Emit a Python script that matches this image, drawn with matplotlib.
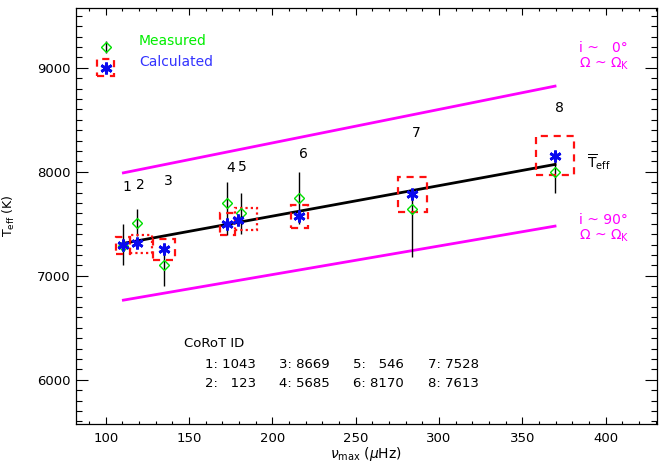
import numpy as np
import matplotlib
matplotlib.use("Agg")
import matplotlib.pyplot as plt
from matplotlib.patches import Rectangle
from matplotlib.ticker import MultipleLocator

# calculated values (stars)
calc_numax = [110.6, 118.6, 135.2, 172.6, 179.6, 216.2, 284.0, 369.6]
calc_teff = [7300, 7311, 7254, 7494, 7536, 7577, 7786, 8154]

# measured values (diamonds) with asymmetric errors
meas_numax = [110.6, 119.0, 135.2, 173.0, 181.0, 216.2, 284.0, 369.6]
meas_teff = [7290, 7510, 7100, 7700, 7600, 7750, 7640, 8000]
meas_err_lo = [190, 130, 200, 310, 195, 250, 460, 200]
meas_err_hi = [210, 130, 200, 200, 195, 250, 160, 200]

# uncertainty boxes on the calculated values: (x0, x1, y0, y1)
box_ranges = [
    (106.0, 114.5, 7212, 7375),
    (114.5, 128.0, 7218, 7390),
    (128.6, 141.6, 7150, 7350),
    (168.6, 177.6, 7391, 7606),
    (177.6, 190.6, 7440, 7648),
    (211.0, 221.6, 7462, 7680),
    (275.6, 293.0, 7615, 7952),
    (358.0, 381.0, 7968, 8346),
]
box_styles = ["dashed", "dotted", "dashed", "dashed", "dotted", "dashed", "dashed", "dashed"]

# star numbers and their label positions
star_ids = ["1", "2", "3", "4", "5", "6", "7", "8"]
label_numax = [112.6, 121.0, 137.6, 175.0, 182.2, 218.6, 286.6, 372.0]
label_teff = [7850, 7870, 7914, 8033, 8048, 8167, 8369, 8610]

# mean Teff relation and the two rotation limits
fit_numax = [110.6, 369.6]
fit_teff = [7312, 8071]
upper_teff = [7990, 8824]
lower_teff = [6766, 7478]

corot_ids = [["1: 1043", "3: 8669", "5:   546", "7: 7528"],
             ["2:   123", "4: 5685", "6: 8170", "8: 7613"]]

dash = (0, (3.2, 2.6))
dot = (0, (1.0, 1.4))
red = "#ff1010"
star_blue = "#0a0aee"

fig = plt.figure(figsize=(6.59, 4.66), dpi=100)
ax = fig.add_axes([0.1149, 0.0901, 0.8816, 0.8927])
ax.set_xlim(82, 430.6)
ax.set_ylim(5575, 9575)

# limits and fit line
ax.plot(fit_numax, upper_teff, color="#ff00ff", lw=2.0, zorder=2)
ax.plot(fit_numax, lower_teff, color="#ff00ff", lw=2.0, zorder=2)
ax.plot(fit_numax, fit_teff, color="black", lw=2.0, zorder=3)

# error bars of the measurements
ax.errorbar(meas_numax, meas_teff, yerr=[meas_err_lo, meas_err_hi], fmt="none",
            ecolor="black", elinewidth=1.0, capsize=0, zorder=2)

for (x0, x1, y0, y1), st in zip(box_ranges, box_styles):
    ls = dash if st == "dashed" else dot
    ax.add_patch(Rectangle((x0, y0), x1 - x0, y1 - y0, fill=False,
                           edgecolor=red, lw=1.6, linestyle=ls, zorder=4))

ax.plot(meas_numax, meas_teff, linestyle="none", marker="D", ms=5.5,
        mfc="none", mec="#00e000", mew=1.0, zorder=5)
ax.plot(calc_numax, calc_teff, linestyle="none", marker=(6, 2, 0), ms=8.5,
        mec=star_blue, mew=2.0, zorder=6)

for sid, x, y in zip(star_ids, label_numax, label_teff):
    ax.text(x, y, sid, fontsize=10, ha="center", va="center")

# legend
ax.errorbar([100], [9200], yerr=[[55], [55]], fmt="none", ecolor="black",
            elinewidth=1.0, zorder=2)
ax.plot([100], [9200], linestyle="none", marker="D", ms=5.5, mfc="none",
        mec="#00e000", mew=1.0, zorder=5)
ax.add_patch(Rectangle((94.6, 8920), 10.6, 163, fill=False, edgecolor=red,
                       lw=1.6, linestyle=dash, zorder=4))
ax.plot([100], [9000], linestyle="none", marker=(6, 2, 0), ms=8.5,
        mec=star_blue, mew=2.0, zorder=6)
ax.text(0.109, 0.921, "Measured", transform=ax.transAxes, color="#00ee00",
        fontsize=10, va="center")
ax.text(0.109, 0.871, "Calculated", transform=ax.transAxes, color="#3333ff",
        fontsize=10, va="center")

# annotations at the right
mag = "#ff00ff"
ax.text(0.867, 0.904, "i ~   0°", transform=ax.transAxes, color=mag, fontsize=10, va="center")
ax.text(0.867, 0.865, r"Ω ~ Ω$_{\rm K}$", transform=ax.transAxes, color=mag, fontsize=10, va="center")
ax.text(0.867, 0.491, "i ~ 90°", transform=ax.transAxes, color=mag, fontsize=10, va="center")
ax.text(0.867, 0.452, r"Ω ~ Ω$_{\rm K}$", transform=ax.transAxes, color=mag, fontsize=10, va="center")
ax.text(0.880, 0.630, r"$\overline{\rm T}_{\rm eff}$", transform=ax.transAxes,
        fontsize=10, va="center")

# CoRoT identifiers
ax.text(0.186, 0.193, "CoRoT ID", transform=ax.transAxes, fontsize=9.5, va="center")
col_x = [0.222, 0.350, 0.478, 0.607]
row_y = [0.143, 0.098]
for r, row in enumerate(corot_ids):
    for c, txt in enumerate(row):
        ax.text(col_x[c], row_y[r], txt, transform=ax.transAxes, fontsize=9.5, va="center")

ax.xaxis.set_major_locator(MultipleLocator(50))
ax.xaxis.set_minor_locator(MultipleLocator(10))
ax.yaxis.set_major_locator(MultipleLocator(1000))
ax.yaxis.set_minor_locator(MultipleLocator(100))
ax.tick_params(axis="x", which="major", direction="in", length=5, width=0.8,
               top=True, labelsize=9.5, pad=6)
ax.tick_params(axis="x", which="minor", direction="in", length=2.5, width=0.8, top=True)
ax.tick_params(axis="y", which="major", direction="in", length=8.5, width=0.8,
               right=True, labelsize=9.5, pad=4)
ax.tick_params(axis="y", which="minor", direction="in", length=4.3, width=0.8, right=True)
for sp in ax.spines.values():
    sp.set_linewidth(0.9)

ax.set_xlabel(r"$\nu_{\rm max}$ ($\mu$Hz)", fontsize=10, labelpad=0)
ax.set_ylabel(r"T$_{\rm eff}$ (K)", fontsize=9, labelpad=14)

fig.savefig("out.png", dpi=100)
